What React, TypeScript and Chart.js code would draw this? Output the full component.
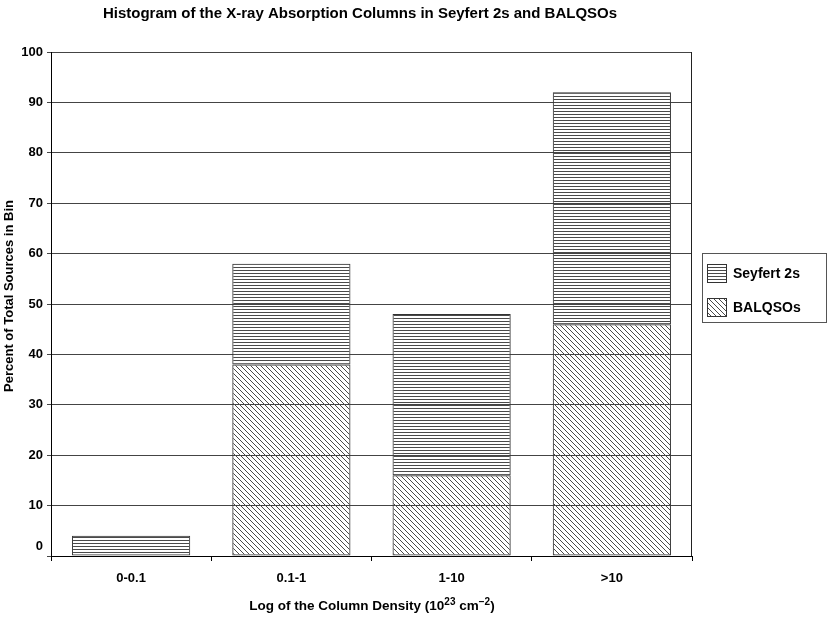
import React, { useEffect, useRef } from "react";
import { Chart, registerables } from "chart.js";

Chart.register(...registerables);

const categories = ["0-0.1", "0.1-1", "1-10", ">10"];
const balqsos = [0, 38, 16, 46];
const seyfert2s = [4, 20, 32, 46];
const seriesNames = ["Seyfert 2s", "BALQSOs"];
const titleText = "Histogram of the X-ray Absorption Columns in Seyfert 2s and BALQSOs";
const yTitle = "Percent of Total Sources in Bin";

const FONT = 'Arial, "Liberation Sans", sans-serif';

function makeHorizontal(): CanvasPattern | string {
  const c = document.createElement("canvas");
  c.width = 3;
  c.height = 3;
  const g = c.getContext("2d")!;
  g.clearRect(0, 0, 3, 3);
  g.fillStyle = "#4a4a4a";
  g.fillRect(0, 0, 3, 1);
  return g.createPattern(c, "repeat") || "#888";
}

function makeDiagonal(): CanvasPattern | string {
  const c = document.createElement("canvas");
  c.width = 5;
  c.height = 5;
  const g = c.getContext("2d")!;
  g.clearRect(0, 0, 5, 5);
  g.fillStyle = "#4a4a4a";
  for (let i = 0; i < 5; i++) g.fillRect(i, i, 1, 1);
  return g.createPattern(c, "repeat") || "#888";
}

export default function App() {
  const ref = useRef<HTMLCanvasElement>(null);

  useEffect(() => {
    const hPat = makeHorizontal();
    const dPat = makeDiagonal();

    const overlay = {
      id: "overlay",
      afterDraw(chart: any) {
        const ctx = chart.ctx as CanvasRenderingContext2D;
        const area = chart.chartArea;
        const y = chart.scales.y;
        ctx.save();
        // right border of plot
        ctx.strokeStyle = "#222";
        ctx.lineWidth = 1;
        ctx.beginPath();
        ctx.moveTo(Math.round(area.right) - 0.5, area.top);
        ctx.lineTo(Math.round(area.right) - 0.5, area.bottom);
        ctx.stroke();

        ctx.fillStyle = "#000";
        // title
        ctx.font = `bold 15px ${FONT}`;
        ctx.textAlign = "center";
        ctx.textBaseline = "middle";
        ctx.fillText(titleText, 360, 14);

        // zero label (offset above axis as in reference)
        ctx.font = `bold 13px ${FONT}`;
        ctx.textAlign = "right";
        ctx.fillText("0", 43, y.getPixelForValue(0) - 10);

        // y title
        ctx.save();
        ctx.translate(9, 296);
        ctx.rotate(-Math.PI / 2);
        ctx.textAlign = "center";
        ctx.font = `bold 13px ${FONT}`;
        ctx.fillText(yTitle, 0, 0);
        ctx.restore();

        // x title with superscripts
        const parts: [string, boolean][] = [
          ["Log of the Column Density (10", false],
          ["23", true],
          [" cm", false],
          ["\u22122", true],
          [")", false],
        ];
        const fNorm = `bold 13.5px ${FONT}`;
        const fSup = `bold 10px ${FONT}`;
        let total = 0;
        for (const [t, s] of parts) {
          ctx.font = s ? fSup : fNorm;
          total += ctx.measureText(t).width;
        }
        let x = 372 - total / 2;
        ctx.textAlign = "left";
        for (const [t, s] of parts) {
          ctx.font = s ? fSup : fNorm;
          ctx.fillText(t, x, s ? 602 : 606);
          x += ctx.measureText(t).width;
        }

        // legend
        ctx.strokeStyle = "#555";
        ctx.strokeRect(702.5, 253.5, 124, 69);
        const pats = [hPat, dPat];
        const ys = [264, 298];
        for (let i = 0; i < 2; i++) {
          ctx.fillStyle = pats[i] as any;
          ctx.fillRect(707, ys[i], 20, 19);
          ctx.strokeStyle = "#333";
          ctx.strokeRect(707.5, ys[i] + 0.5, 19, 18);
          ctx.fillStyle = "#000";
          ctx.font = `bold 14px ${FONT}`;
          ctx.textBaseline = "middle";
          ctx.fillText(seriesNames[i], 733, ys[i] + 10);
        }
        ctx.restore();
      },
    };

    const chart = new Chart(ref.current!, {
      type: "bar",
      data: {
        labels: categories,
        datasets: [
          {
            label: "BALQSOs",
            data: balqsos,
            backgroundColor: dPat as any,
            borderColor: "#333",
            borderWidth: 1,
            borderSkipped: false,
            categoryPercentage: 1,
            barPercentage: 0.7375,
          },
          {
            label: "Seyfert 2s",
            data: seyfert2s,
            backgroundColor: hPat as any,
            borderColor: "#333",
            borderWidth: 1,
            borderSkipped: false,
            categoryPercentage: 1,
            barPercentage: 0.7375,
          },
        ],
      },
      options: {
        animation: false,
        responsive: true,
        maintainAspectRatio: false,
        devicePixelRatio: 1,
        layout: { padding: { left: 0, top: 52, right: 138, bottom: 0 } },
        plugins: {
          legend: { display: false },
          title: { display: false },
          tooltip: { enabled: false },
        },
        scales: {
          x: {
            stacked: true,
            afterFit: (s: any) => {
              s.height = 68;
            },
            grid: {
              offset: true,
              drawOnChartArea: false,
              drawTicks: true,
              tickLength: 5,
              color: "#000",
            },
            border: { display: true, color: "#000", width: 1 },
            ticks: {
              color: "#000",
              font: { family: FONT, size: 13, weight: "bold" },
              padding: 10,
              maxRotation: 0,
            },
          },
          y: {
            stacked: true,
            min: 0,
            max: 100,
            afterFit: (s: any) => {
              s.width = 51;
            },
            grid: {
              color: "#444",
              lineWidth: 1,
              drawTicks: true,
              tickLength: 4,
            },
            border: { display: true, color: "#000", width: 1 },
            ticks: {
              stepSize: 10,
              color: "#000",
              padding: 4,
              font: { family: FONT, size: 13, weight: "bold" },
              callback: (v: any) => (Number(v) === 0 ? "" : String(v)),
            },
          },
        },
      },
      plugins: [overlay],
    });
    return () => chart.destroy();
  }, []);

  return (
    <div style={{ position: "fixed", left: 0, top: 0, width: 830, height: 624, background: "#fff" }}>
      <canvas ref={ref} />
    </div>
  );
}
